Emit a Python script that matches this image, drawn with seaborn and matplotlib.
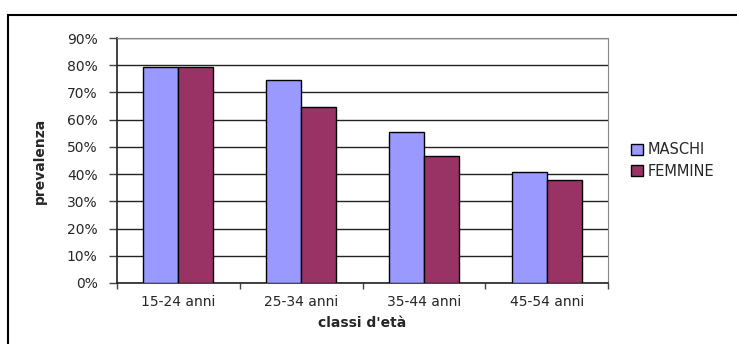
import pandas as pd
import matplotlib
matplotlib.use("Agg")
import matplotlib.pyplot as plt
import matplotlib.ticker as mticker
from matplotlib.patches import Rectangle
import seaborn as sns

# values (prevalenza, %)
classi = ["15-24 anni", "25-34 anni", "35-44 anni", "45-54 anni"]
maschi = [79.5, 74.6, 55.4, 40.8]
femmine = [79.4, 64.7, 46.6, 37.7]
sessi = ["MASCHI", "FEMMINE"]
colori = ["#9999FF", "#993366"]

df = pd.DataFrame({
    "classe": classi * 2,
    "sesso": [sessi[0]] * len(classi) + [sessi[1]] * len(classi),
    "prevalenza": maschi + femmine,
})

sns.set_style("white")
plt.rcParams['font.family'] = ['DejaVu Sans']

fig = plt.figure(figsize=(7.37, 3.44), dpi=100)
ax = fig.add_axes([117 / 737, 1 - 283 / 344, (608 - 117) / 737, (283 - 38) / 344])

sns.barplot(data=df, x="classe", y="prevalenza", hue="sesso", hue_order=sessi,
            palette=colori, width=0.57, edgecolor="black", linewidth=1,
            saturation=1, ax=ax, zorder=3)

ax.set_ylim(0, 90)
ax.set_xlim(-0.5, 3.5)
ax.yaxis.set_major_locator(mticker.MultipleLocator(10))
ax.yaxis.set_major_formatter(mticker.FuncFormatter(lambda v, p: f"{v:.0f}%"))
ax.grid(axis="y", color="#222222", linewidth=1, zorder=0)

# tick marks at the category boundaries, labels at the centres
ax.set_xticks(range(len(classi)))
ax.set_xticklabels(classi)
ax.set_xticks([-0.5, 0.5, 1.5, 2.5, 3.5], minor=True)
ax.tick_params(axis="x", which="major", length=0, pad=9, labelsize=10)
ax.tick_params(axis="x", which="minor", length=4, color="#444444", width=1, direction="out")
ax.tick_params(axis="y", length=6, color="#444444", width=1, direction="out", labelsize=10, pad=8)
ax.tick_params(bottom=True, left=True, which="both")

for s in ["left", "bottom"]:
    ax.spines[s].set_color("#222222")
    ax.spines[s].set_linewidth(1.2)
ax.spines["right"].set_color("#888888")
ax.spines["top"].set_color("#888888")

ax.set_xlabel("classi d'età", fontsize=10, fontweight="bold", labelpad=5)
ax.set_ylabel("prevalenza", fontsize=10, fontweight="bold", labelpad=14)

handles, labels = ax.get_legend_handles_labels()
ax.legend(handles, labels, loc="center left", bbox_to_anchor=(1.035, 0.5),
          frameon=False, fontsize=10.5, handlelength=0.8, handleheight=0.8,
          handletextpad=0.35, labelspacing=0.45, borderaxespad=0)

# chart area frame (extends past the image on the right/bottom)
fig.patches.append(Rectangle((8 / 737, -0.1), 1.1, 1.1 - 15 / 344,
                             transform=fig.transFigure, fill=False,
                             edgecolor="black", linewidth=1.5))

fig.savefig("out.png", dpi=100)
